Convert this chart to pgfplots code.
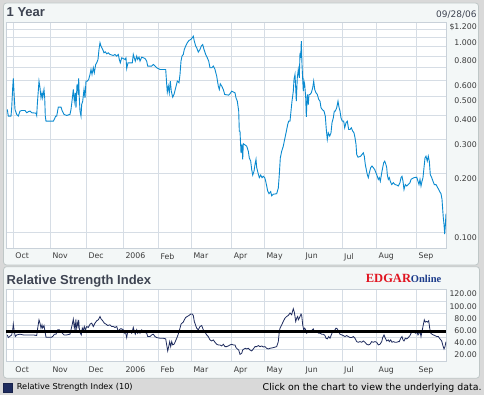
\documentclass[border=0pt]{standalone}
\usepackage{pgfplots}
\pgfplotsset{compat=1.18}
\usepackage{fontspec}
\setmainfont{DejaVu Sans}
\newfontfamily\titlefont{Liberation Sans}
\newfontfamily\logofont{Liberation Serif}
\definecolor{outerbg}{HTML}{D9D9D9}
\definecolor{panelbg}{HTML}{F3F7F7}
\definecolor{panelborder}{HTML}{BFC7C7}
\definecolor{plotborder}{HTML}{C9D1D9}
\definecolor{gridc}{HTML}{D6DDE5}
\definecolor{pricec}{HTML}{0A8AD0}
\definecolor{rsic}{HTML}{1E2B5E}
\definecolor{titlec}{HTML}{3E4452}
\definecolor{tickc}{HTML}{3A3A3A}
\definecolor{edgarred}{HTML}{E01420}
\definecolor{edgarblue}{HTML}{1A3A8A}
\pgfplotsset{chartstyle/.style={
  scale only axis, width=440pt, xmin=6, xmax=446,
  axis background/.style={fill=white},
  axis line style={draw=plotborder, line width=0.8pt},
  grid=both,
  major grid style={draw=gridc, line width=0.8pt},
  minor grid style={draw=gridc, line width=0.8pt},
  major tick length=0pt, minor tick length=0pt,
  tick style={draw=none},
  xtick={13.3,50.3,86.3,123.3,158.3,191.3,231.7,264.3,303.3,342,376.5,416.5},
  xticklabels={Oct,Nov,Dec,2006,Feb,Mar,Apr,May,Jun,Jul,Aug,Sep},
  xticklabel style={anchor=north west, inner sep=0pt, xshift=2pt, yshift=-5pt},
  yticklabel pos=right,
  yticklabel style={anchor=east, inner sep=0pt, xshift=31pt, yshift=-4.8pt},
  tick label style={font=\fontsize{7.8}{8}\selectfont, text=tickc},
}}
\begin{document}
\begin{tikzpicture}[x=1pt,y=1pt]
\useasboundingbox (0,0) rectangle (484,395);
\fill[outerbg] (0,0) rectangle (484,395);
\filldraw[fill=panelbg, draw=panelborder, line width=0.8pt, rounded corners=3pt] (3.5,392) rectangle (478.5,130);
\filldraw[fill=panelbg, draw=panelborder, line width=0.8pt, rounded corners=3pt] (3.5,128.3) rectangle (479.5,16.8);
\node[anchor=base west, inner sep=0pt, text=titlec, font=\titlefont\bfseries\fontsize{13}{13}\selectfont] at (6.5,378.3) {1 Year};
\node[anchor=base east, inner sep=0pt, text=titlec, font=\fontsize{9}{9}\selectfont] at (476.7,377.8) {09/28/06};
\node[anchor=base west, inner sep=0pt, text=titlec, font=\titlefont\bfseries\fontsize{13}{13}\selectfont] at (6.5,110) {Relative Strength Index};
\node[anchor=base west, inner sep=0pt, text=edgarred, font=\logofont\bfseries\fontsize{12.5}{12.5}\selectfont] at (365.7,112.3) {EDGAR};
\node[anchor=base west, inner sep=0pt, text=edgarblue, font=\logofont\bfseries\fontsize{10.5}{10.5}\selectfont] at (410.7,112.3) {Online};
\filldraw[fill=rsic, draw=rsic!80!black, line width=0.5pt] (3.3,3) rectangle (12.7,11.7);
\node[anchor=base west, inner sep=0pt, text=black, font=\fontsize{8.2}{8.2}\selectfont] at (16.7,5) {Relative Strength Index (10)};
\node[anchor=base east, inner sep=0pt, text=black, font=\fontsize{9.4}{9.4}\selectfont] at (481.7,4.5) {Click on the chart to view the underlying data.};

\begin{axis}[chartstyle, at={(6pt,147pt)}, anchor=south west, height=226pt,
  ymode=log, ymin=0.0832, ymax=1.2,
  ytick={0.1,0.2,0.3,0.4,0.5,0.6,0.8,1.0,1.2},
  yticklabels={0.100,0.200,0.300,0.400,0.500,0.600,0.800,1.000,\$1.200},
  minor ytick={0.7,0.9,1.1},
  log basis y=10]
\addplot[pricec, line width=0.9pt, mark=none] coordinates {
(7.3,0.427) (8.3,0.395) (11,0.395) (11.7,0.436) (12.7,0.552) (13.3,0.616) (14.3,0.490) (15,0.427) (16.7,0.403) (18.3,0.395) (20,0.419) (21.7,0.422) (25,0.422) (26.7,0.411) (28.3,0.416) (30,0.419) (31.7,0.411) (36,0.409) (36.7,0.398) (37.3,0.453) (39,0.597) (40,0.552) (41,0.490) (42,0.520) (42.7,0.490) (44,0.541) (44.7,0.490) (45.3,0.395) (46,0.372) (53.3,0.372) (54.3,0.380) (55.7,0.395) (56.7,0.395) (58.3,0.439) (61,0.439) (62.3,0.419) (64,0.403) (66.7,0.398) (70,0.403) (71,0.427) (72.3,0.486) (73.3,0.541) (74.3,0.471) (75.3,0.520) (76,0.436) (77,0.574) (78,0.530) (78.7,0.616) (79.3,0.490) (80,0.419) (81,0.395) (81.7,0.453) (82.7,0.471) (84,0.541) (85,0.490) (86,0.597) (87.3,0.597) (88.7,0.609) (90,0.646) (91,0.685) (92,0.646) (93.3,0.699) (94.3,0.659) (95.7,0.727) (96.7,0.741) (98,0.771) (99,0.868) (100,0.939) (101,0.903) (102.7,0.868) (104,0.834) (105.3,0.844) (106.7,0.824) (108.3,0.834) (110,0.818) (113.3,0.808) (115,0.818) (116.7,0.802) (118.3,0.818) (119.3,0.771) (120.3,0.741) (121.7,0.786) (125,0.771) (126,0.786) (126.7,0.693) (128,0.741) (132.3,0.741) (133.3,0.818) (134.3,0.786) (135.3,0.756) (136.7,0.802) (137.7,0.771) (139,0.793) (140,0.756) (141.7,0.793) (145,0.780) (146.7,0.756) (147.7,0.713) (151.7,0.713) (153.3,0.727) (155,0.713) (156.7,0.699) (160,0.685) (165.7,0.685) (166.7,0.574) (167.3,0.524) (168.3,0.563) (169.3,0.520) (170.3,0.597) (171.3,0.530) (172.7,0.494) (174,0.510) (175.7,0.552) (177.3,0.597) (179,0.585) (180,0.646) (181,0.756) (182,0.802) (183.3,0.818) (184.3,0.868) (185.7,0.903) (187.3,0.939) (189,0.965) (190.7,0.976) (192.3,0.996) (193.3,1.015) (194.3,0.957) (195.7,0.903) (196.7,0.885) (198.3,0.841) (200,0.868) (201.3,0.903) (202.7,0.920) (204,0.868) (205.7,0.818) (207.3,0.786) (208.7,0.756) (210,0.699) (211.7,0.699) (213.3,0.713) (215,0.685) (216.7,0.633) (218.3,0.563) (219.3,0.541) (220.3,0.578) (221.7,0.563) (223.3,0.541) (224.7,0.510) (228.7,0.506) (230,0.514) (231.7,0.530) (235,0.520) (236,0.490) (237.3,0.471) (238.7,0.419) (239.3,0.331)
(240,0.331) (241,0.256) (242,0.283) (242.7,0.237) (243.3,0.285) (246.7,0.277) (248.3,0.261) (249.3,0.241) (250.7,0.232) (251.7,0.210) (252.7,0.197) (254,0.206) (255,0.223) (256,0.237) (256.7,0.215) (258,0.202) (259.3,0.191) (260.7,0.197) (262,0.191) (263.3,0.194) (264.7,0.191) (265.7,0.183) (266.7,0.173) (267.7,0.163) (269,0.158) (270.7,0.162) (271.7,0.154) (273.3,0.157) (276.7,0.158) (278.3,0.169) (279.3,0.198) (280.3,0.241) (281.7,0.261) (283.3,0.277) (284.3,0.294) (285.7,0.318) (286.7,0.337) (287.7,0.358) (288.7,0.372) (290,0.372) (291,0.419) (292,0.471) (293.3,0.530) (294,0.609) (295,0.646) (295.7,0.552) (296.3,0.471) (297.3,0.621) (298.3,0.685) (299.3,0.621) (300,0.834) (300.7,0.786) (301.3,0.957) (302,0.727) (302.7,0.609) (303.3,0.530) (304,0.597) (304.7,0.574) (305.7,0.490) (306.3,0.392) (307.3,0.510) (308.3,0.453) (309,0.510) (310,0.510) (311.3,0.520) (312.7,0.552) (313.7,0.597) (314.7,0.541) (316,0.520) (317.3,0.510) (318.7,0.481) (320,0.471) (321,0.436) (322.3,0.427) (324,0.419) (325.3,0.395) (326.3,0.337) (327.3,0.300) (328.3,0.324) (329.7,0.312) (331,0.324) (332,0.365) (333.3,0.387) (334.3,0.419) (335.3,0.419) (336.7,0.436) (338,0.471) (339,0.439) (340,0.419) (341,0.387) (342.3,0.372) (343.7,0.372) (344.7,0.344) (346,0.365) (347.3,0.372) (348.7,0.337) (350,0.337) (351.3,0.344) (352.7,0.331) (354,0.324) (355,0.306) (356,0.283) (356.7,0.251) (358,0.243) (360.7,0.246) (362,0.251) (363.3,0.256) (364.3,0.246) (365.3,0.223) (366.3,0.210) (367.3,0.198) (368.3,0.191) (369.3,0.202) (370.7,0.215) (372,0.219) (373.3,0.215) (374.7,0.210) (376,0.202) (377.3,0.194) (378.3,0.187) (379.3,0.191) (380.3,0.183) (381.7,0.202) (382.7,0.215) (383.7,0.228) (384.7,0.232) (385.7,0.225) (386.7,0.215) (387.3,0.198) (388.3,0.187) (389.3,0.191) (390.3,0.183) (391.7,0.176) (393.3,0.180) (395,0.176) (396.7,0.175) (398.3,0.173) (400,0.180) (401,0.191) (402,0.194) (403,0.183) (404,0.166) (405.3,0.176) (406.7,0.173) (408.3,0.176) (410,0.180) (411,0.187) (412.3,0.189) (414,0.191) (416.7,0.192) (418,0.183) (419,0.176) (420,0.187) (421,0.173) (422,0.183) (423,0.191) (424,0.215) (425,0.241) (426,0.246) (427.3,0.232) (428.3,0.246) (429.3,0.232) (430.3,0.198) (431.7,0.191) (433,0.183) (434.3,0.176) (436,0.176) (437.3,0.171) (438.7,0.166) (440,0.161) (441,0.158) (442,0.148) (442.7,0.131) (443.3,0.119) (444,0.110) (444.7,0.098) (445.3,0.108) (446,0.125)
};
\end{axis}

\begin{axis}[chartstyle, at={(6pt,33.3pt)}, anchor=south west, height=72.4pt,
  ymin=0, ymax=120,
  ytick={20,40,60,80,100,120},
  yticklabels={20.00,40.00,60.00,80.00,100.00,120.00}]
\addplot[rsic, line width=0.8pt, mark=none] coordinates {
(7.3,44.4) (8.3,40) (11.7,44.4) (12.7,52.8) (13.3,62.2) (14.3,50) (15.3,41.7) (16.7,44.4) (20,45.6) (23.3,44.4) (26.7,44.4) (30,44.4) (33.3,44.4) (36.7,43.3) (37.7,55.6) (39,69.4) (40,63.9) (41,55.6) (42,61.1) (42.7,55.6) (44,60) (45,50) (46,40.6) (48.3,40.6) (51.7,40.6) (53.3,42.8) (54.3,45.6) (56,45.6) (57.7,52.8) (59.3,52.8) (61.7,48.3) (64,44.4) (66.7,44.4) (70,45.6) (71,52.8) (72.3,62.2) (73.3,70.6) (74.3,55.6) (75.3,65.6) (76,50) (77,66.7) (78,58.3) (78.7,69.4) (79.3,55.6) (80.3,47.2) (81.3,44.4) (82.3,55.6) (83.3,51.1) (84.3,58.3) (85.3,52.8) (86.7,58.3) (88.3,56.7) (90,62.2) (91.7,63.9) (93.3,58.3) (95,63.9) (96.7,67.8) (98.3,69.4) (100,75) (101,71.1) (102.7,67.8) (104.3,63.9) (106,62.2) (107.7,60) (110,61.1) (111.7,58.3) (113.3,58.3) (115,56.7) (116.7,58.3) (118.3,50) (119.3,52.8) (120.3,54.4) (121.7,54.4) (123.3,52.8) (124.3,47.2) (125.3,50) (126.7,40) (127.7,50) (130,51.1) (131.7,47.2) (133.3,56.7) (134.3,50) (135.3,45.6) (136.7,52.8) (137.7,47.2) (139,51.1) (140,47.2) (141.7,52.8) (143.3,50) (146.7,47.2) (147.7,41.7) (150,41.7) (151.7,44.4) (153.3,45.6) (155,41.7) (156.7,40) (160,38.9) (163.3,38.9) (165.7,37.8) (166.7,27.8) (167.7,17.8) (168.7,25) (169.7,33.3) (170.7,25) (171.7,33.3) (172.7,27.8) (174,28.9) (175.3,33.3) (176.7,38.9) (178,44.4) (179,50) (180,55.6) (181,62.2) (182,63.9) (183.3,65.6) (184.3,69.4) (185.7,73.3) (187.3,75) (189,76.7) (190.7,78.9) (192.3,78.9) (193.3,76.7) (194.3,66.7) (195.7,60) (196.7,55.6) (198.3,52.8) (200,58.3) (201.7,60) (203.3,52.8) (205,48.9) (206.7,44.4) (208.3,41.7) (210,36.1) (211.7,34.4) (213.3,36.1) (215,32.2) (216.7,28.9) (218.3,27.8) (220,27.8) (221.7,26.1) (223.3,28.9) (225,25) (226.7,25) (228.3,26.1) (230,27.8) (231.7,28.9) (233.3,27.8) (235,27.8) (236,23.3) (237.3,21.1) (238.7,19.4)
(240,12.2) (241.7,13.9) (242.7,19.4) (244,21.1) (245.3,22.2) (246.7,21.1) (248.3,22.2) (250,19.4) (251.7,17.8) (253.3,21.1) (255,25) (256.7,25) (258.3,26.7) (260,25) (261.7,26.1) (263.3,24.4) (265,25) (266.7,22.2) (268.3,21.1) (270,22.2) (273.3,23.3) (276.7,25) (278.3,33.3) (279.3,50) (280,55.6) (281.7,61.1) (283.3,66.7) (285,72.2) (286.7,75) (288.3,76.7) (290,80.6) (291.7,77.8) (292.7,84.4) (293.3,87.8) (294.3,82.2) (295,75) (295.7,66.7) (296.7,72.2) (297.7,75) (298.3,69.4) (299.3,72.2) (300,75) (301,78.9) (301.7,76.7) (302.7,61.1) (303.7,52.8) (304.7,55.6) (305.7,52.8) (306.7,47.2) (307.7,50) (309,51.1) (310,51.1) (311.7,51.7) (313.3,54.4) (314.3,50) (316,50) (317.3,48.9) (318.7,47.2) (320,47.2) (321.7,45.6) (323.3,45.6) (325,43.3) (326,38.9) (327.3,37.8) (328.7,41.7) (330,38.9) (331.3,44.4) (332.7,50) (334,51.1) (335,52.8) (336,55.6) (337.3,54.4) (338.7,50) (340,45.6) (341.7,44.4) (343.3,43.3) (345,41.7) (346.7,43.3) (348.3,41.7) (350,40) (351.7,40) (353.3,41.7) (355,38.9) (356.7,33.3) (358.3,32.2) (360,33.3) (361.7,32.2) (363.3,34.4) (365,32.2) (366.7,28.9) (368.3,27.8) (370,28.9) (371.7,33.3) (373.3,32.2) (375,33.3) (376.7,32.2) (378.3,27.8) (380,28.9) (381.7,33.3) (382.7,40) (384,44.4) (385.3,38.9) (386.7,34.4) (388.3,36.1) (389.3,33.3) (390.7,36.1) (392,32.2) (393.3,33.3) (395,32.2) (396.7,32.2) (398.3,33.3) (399.3,33.3) (400.7,38.9) (402,41.7) (403,36.1) (404,34.4) (405.3,38.9) (406.7,37.8) (408.3,40) (410,43.3) (411,47.2) (412.3,48.9) (414,48.9) (415.7,47.2) (416.7,50) (418,44.4) (419,47.2) (420,50) (421,41.7) (422,50) (423.3,61.1) (424.3,69.4) (425.3,65.6) (426.7,66.7) (427.7,65.6) (428.7,67.8) (429.7,55.6) (430.7,47.2) (432,45.6) (433.3,44.4) (435,43.3) (436.7,41.7) (438.3,41.7) (440,37.8) (441.7,34.4) (442.7,27.8) (444,21.1) (445,25) (446,33.3)
};
\addplot[black, line width=2.4pt, mark=none] coordinates {(6,50) (446,50)};
\end{axis}
\end{tikzpicture}
\end{document}
